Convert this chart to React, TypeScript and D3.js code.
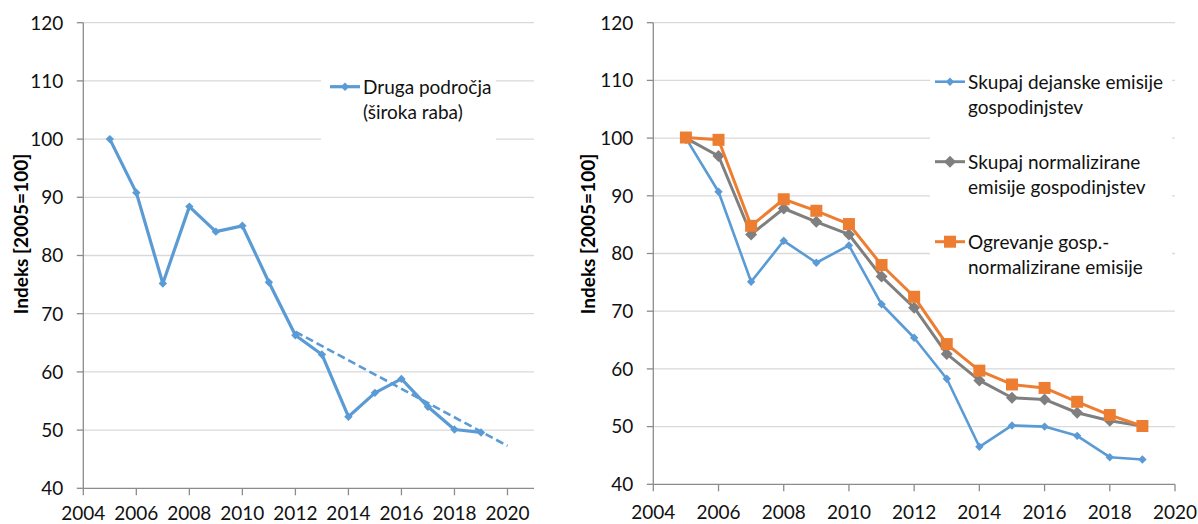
import * as d3 from "d3";
import { useEffect, useRef } from "react";

const YEARS = [2005, 2006, 2007, 2008, 2009, 2010, 2011, 2012, 2013, 2014, 2015, 2016, 2017, 2018, 2019];
const DRUGA_PODROCJA = [100, 90.8, 75.2, 88.4, 84.1, 85.1, 75.4, 66.3, 63.0, 52.3, 56.4, 58.8, 54.0, 50.1, 49.6];
const TREND_YEARS = [2012, 2020];
const TREND_VALUES = [66.9, 47.3];
const DEJANSKE = [100, 90.7, 75.1, 82.2, 78.4, 81.4, 71.2, 65.4, 58.3, 46.5, 50.2, 50.0, 48.4, 44.7, 44.3];
const NORMALIZIRANE = [100, 96.9, 83.3, 87.8, 85.5, 83.3, 76.0, 70.6, 62.6, 58.0, 55.0, 54.7, 52.4, 51.0, 50.1];
const OGREVANJE = [100.1, 99.7, 84.8, 89.4, 87.4, 85.1, 78.0, 72.5, 64.3, 59.7, 57.3, 56.7, 54.3, 52.0, 50.1];
const Y_TICKS = [40, 50, 60, 70, 80, 90, 100, 110, 120];
const X_TICKS = [2004, 2006, 2008, 2010, 2012, 2014, 2016, 2018, 2020];
const Y_TITLE = "Indeks [2005=100]";

const FONT = "Lato, 'Open Sans', sans-serif";
const BLUE = "#5b9bd5";
const GRAY = "#7f7f7f";
const ORANGE = "#ed7d31";
const GRID = "#d9d9d9";
const AXIS = "#8c8c8c";
const TEXT = "#111";

type Marker = "diamond" | "square";

type Series = {
  name: string[];
  values: number[];
  color: string;
  marker: Marker;
  markerSize: number;
  lineWidth: number;
};

type Panel = {
  xDomain: [number, number];
  xRange: [number, number];
  yRange: [number, number];
  titleX: number;
  titleY: number;
  series: Series[];
  trend?: { years: number[]; values: number[] };
  legend: { box: [number, number, number, number]; lineX: number; firstY: number; step: number };
};

const markerPath = (marker: Marker, r: number) =>
  marker === "diamond" ? `M0,${-r}L${r},0L0,${r}L${-r},0Z` : `M${-r},${-r}H${r}V${r}H${-r}Z`;

const PANELS: Panel[] = [
  {
    xDomain: [2004, 2021],
    xRange: [83.3, 534],
    yRange: [488.3, 22.7],
    titleX: 21,
    titleY: 234,
    series: [
      { name: ["Druga področja", "(široka raba)"], values: DRUGA_PODROCJA, color: BLUE, marker: "diamond", markerSize: 4.2, lineWidth: 3.2 },
    ],
    trend: { years: TREND_YEARS, values: TREND_VALUES },
    legend: { box: [321, 58, 175, 88], lineX: 330, firstY: 86.7, step: 80 },
  },
  {
    xDomain: [2004, 2020],
    xRange: [653.3, 1175],
    yRange: [484.3, 22.7],
    titleX: 588,
    titleY: 234,
    series: [
      { name: ["Skupaj dejanske emisije", "gospodinjstev"], values: DEJANSKE, color: BLUE, marker: "diamond", markerSize: 4.2, lineWidth: 2.6 },
      { name: ["Skupaj normalizirane", "emisije gospodinjstev"], values: NORMALIZIRANE, color: GRAY, marker: "diamond", markerSize: 6, lineWidth: 3 },
      { name: ["Ogrevanje gosp.-", "normalizirane emisije"], values: OGREVANJE, color: ORANGE, marker: "square", markerSize: 6, lineWidth: 3 },
    ],
    legend: { box: [930, 60, 242, 225], lineX: 935, firstY: 81.7, step: 80 },
  },
];

const drawPanel = (root: d3.Selection<SVGSVGElement, unknown, null, undefined>, panel: Panel) => {
  const x = d3.scaleLinear().domain(panel.xDomain).range(panel.xRange);
  const y = d3.scaleLinear().domain([40, 120]).range(panel.yRange);
  const [x0, x1] = panel.xRange;
  const [yBottom] = panel.yRange;
  const g = root.append("g");

  g.selectAll("line.grid")
    .data(Y_TICKS.filter((t) => t > 40))
    .join("line")
    .attr("x1", x0)
    .attr("x2", x1)
    .attr("y1", (t) => y(t))
    .attr("y2", (t) => y(t))
    .attr("stroke", GRID)
    .attr("stroke-width", 1.3);

  // legend box hides the grid behind it
  const [bx, by, bw, bh] = panel.legend.box;
  g.append("rect").attr("x", bx).attr("y", by).attr("width", bw).attr("height", bh).attr("fill", "white");

  g.append("line").attr("x1", x0).attr("x2", x0).attr("y1", y(120)).attr("y2", yBottom).attr("stroke", AXIS).attr("stroke-width", 1.3);
  g.append("line").attr("x1", x0).attr("x2", x1).attr("y1", yBottom).attr("y2", yBottom).attr("stroke", AXIS).attr("stroke-width", 1.3);

  g.selectAll("line.ytick")
    .data(Y_TICKS)
    .join("line")
    .attr("x1", x0 - 6.5)
    .attr("x2", x0)
    .attr("y1", (t) => y(t))
    .attr("y2", (t) => y(t))
    .attr("stroke", AXIS)
    .attr("stroke-width", 1.3);

  g.selectAll("line.xtick")
    .data(X_TICKS)
    .join("line")
    .attr("x1", (t) => x(t))
    .attr("x2", (t) => x(t))
    .attr("y1", yBottom)
    .attr("y2", yBottom + 7)
    .attr("stroke", AXIS)
    .attr("stroke-width", 1.3);

  g.selectAll("text.ylab")
    .data(Y_TICKS)
    .join("text")
    .attr("x", x0 - 20)
    .attr("y", (t) => y(t))
    .attr("dy", "0.36em")
    .attr("text-anchor", "end")
    .style("font-family", FONT)
    .style("font-size", "19px")
    .attr("fill", TEXT)
    .text((t) => String(t));

  g.selectAll("text.xlab")
    .data(X_TICKS)
    .join("text")
    .attr("x", (t) => x(t))
    .attr("y", Math.min(yBottom + 28, 513))
    .attr("dy", "0.36em")
    .attr("text-anchor", "middle")
    .style("font-family", FONT)
    .style("font-size", "19px")
    .attr("fill", TEXT)
    .text((t) => String(t));

  g.append("text")
    .attr("transform", `translate(${panel.titleX},${panel.titleY}) rotate(-90)`)
    .attr("dy", "0.36em")
    .attr("text-anchor", "middle")
    .style("font-family", FONT)
    .style("font-size", "19px")
    .style("font-weight", "bold")
    .attr("fill", "#000")
    .text(Y_TITLE);

  if (panel.trend) {
    const trendLine = d3
      .line<number>()
      .x((_, i) => x(panel.trend!.years[i]))
      .y((v) => y(v));
    g.append("path")
      .attr("d", trendLine(panel.trend.values))
      .attr("fill", "none")
      .attr("stroke", BLUE)
      .attr("stroke-width", 2.6)
      .attr("stroke-dasharray", "8,4");
  }

  const line = d3
    .line<number>()
    .x((_, i) => x(YEARS[i]))
    .y((v) => y(v));

  panel.series.forEach((s, idx) => {
    g.append("path")
      .attr("d", line(s.values))
      .attr("fill", "none")
      .attr("stroke", s.color)
      .attr("stroke-width", s.lineWidth)
      .attr("stroke-linejoin", "round");

    g.selectAll(`path.m${idx}`)
      .data(s.values)
      .join("path")
      .attr("transform", (v, i) => `translate(${x(YEARS[i])},${y(v)})`)
      .attr("d", markerPath(s.marker, s.markerSize))
      .attr("fill", s.color);

    const ly = panel.legend.firstY + idx * panel.legend.step;
    const lx = panel.legend.lineX;
    g.append("line").attr("x1", lx).attr("x2", lx + 30).attr("y1", ly).attr("y2", ly).attr("stroke", s.color).attr("stroke-width", s.lineWidth);
    g.append("path").attr("transform", `translate(${lx + 15},${ly})`).attr("d", markerPath(s.marker, s.markerSize)).attr("fill", s.color);
    s.name.forEach((label, li) => {
      g.append("text")
        .attr("x", lx + 33)
        .attr("y", ly + li * 25)
        .attr("dy", "0.36em")
        .style("font-family", FONT)
        .style("font-size", "19px")
        .attr("fill", TEXT)
        .text(label);
    });
  });
};

const App = () => {
  const svgRef = useRef<SVGSVGElement | null>(null);

  useEffect(() => {
    if (!svgRef.current) return;
    const svg = d3.select(svgRef.current);
    svg.selectAll("*").remove();
    svg.append("rect").attr("width", 1198).attr("height", 524).attr("fill", "white");
    PANELS.forEach((panel) => drawPanel(svg, panel));
  }, []);

  return (
    <div style={{ position: "absolute", left: 0, top: 0 }}>
      <svg ref={svgRef} width={1198} height={524} style={{ display: "block" }} />
    </div>
  );
};

export default App;
